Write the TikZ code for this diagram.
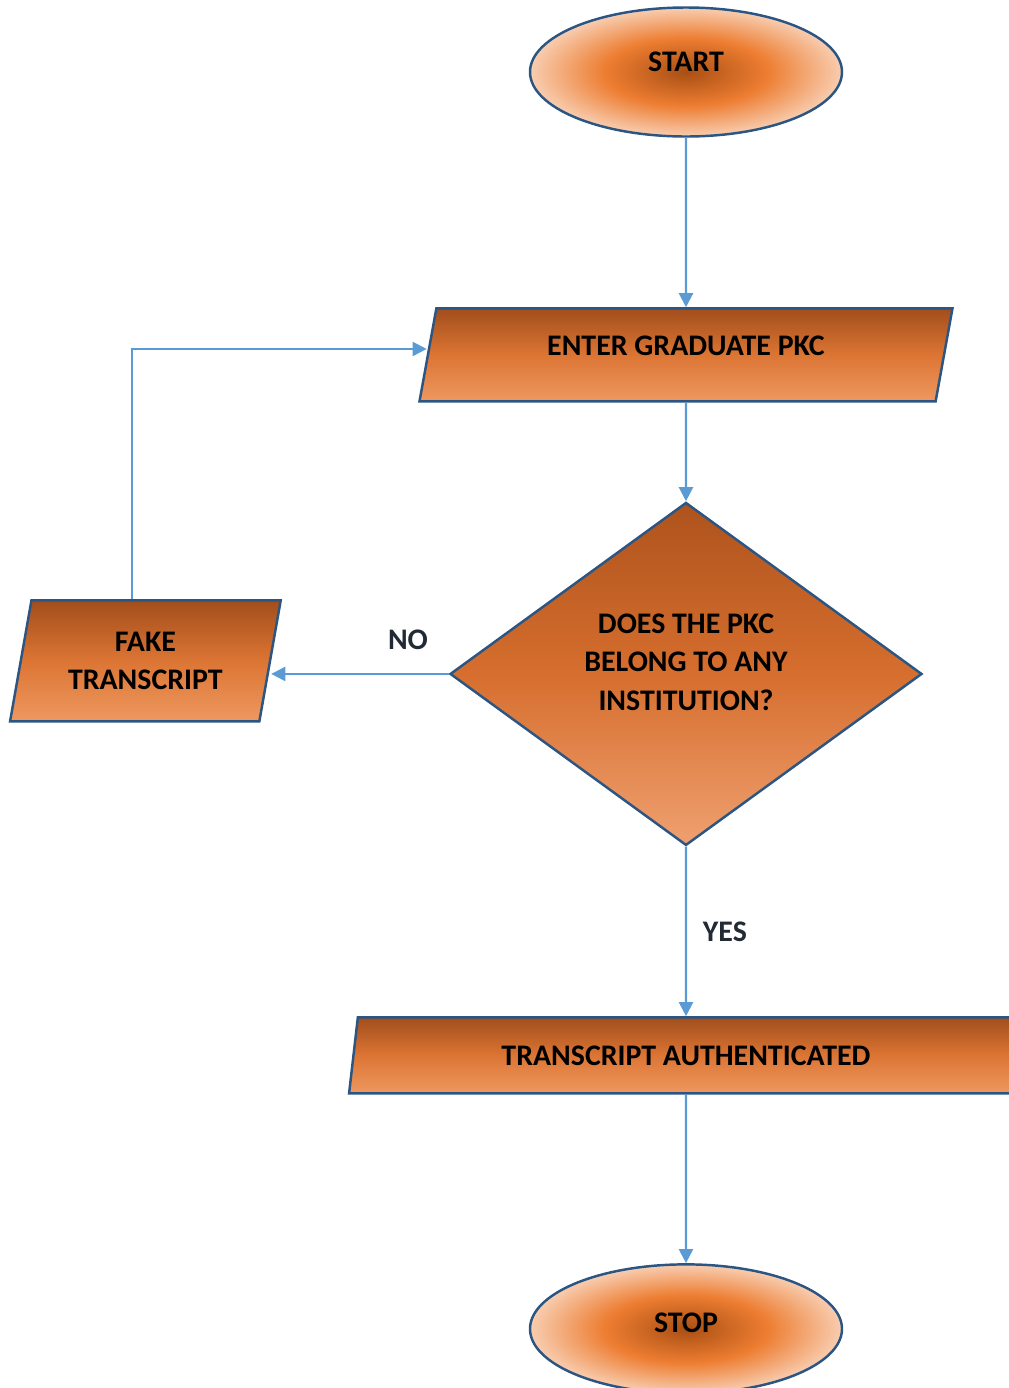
\documentclass[tikz,border=0pt]{standalone}
\usepackage{fontspec}
\setmainfont{Carlito}
\usepackage{xcolor}
\usetikzlibrary{shapes.geometric,arrows.meta,positioning}

\definecolor{edgeblue}{HTML}{2B5583}
\definecolor{linkblue}{HTML}{5B9BD5}
\definecolor{labelink}{HTML}{222A35}
\definecolor{ovcore}{HTML}{A94F14}
\definecolor{ovmid}{HTML}{ED7D31}
\definecolor{ovrim}{HTML}{F8CDB0}
\definecolor{pgtop}{HTML}{A24E1C}
\definecolor{pgmid}{HTML}{DC7534}
\definecolor{pgbot}{HTML}{EE9860}
\definecolor{dmtop}{HTML}{AE531D}
\definecolor{dmmid}{HTML}{D66E2E}
\definecolor{dmbot}{HTML}{EFA070}

\pgfdeclareradialshading{ovalglow}{\pgfpoint{0bp}{0bp}}{color(0bp)=(ovcore); color(13bp)=(ovmid); color(25bp)=(ovrim); color(50bp)=(ovrim)}

\begin{document}
\begin{tikzpicture}[
    node distance=3.39cm,
    font=\bfseries\fontsize{17}{22}\selectfont,
    terminal/.style={ellipse, draw=edgeblue, line width=1.4pt, shade, shading=ovalglow, minimum width=6.24cm, minimum height=2.58cm, inner sep=0pt, align=center},
    inout/.style={trapezium, trapezium left angle=76, trapezium right angle=104, trapezium stretches=true, draw=edgeblue, line width=1.4pt, top color=pgtop, bottom color=pgbot, middle color=pgmid, inner sep=0pt, align=center},
    decision/.style={diamond, draw=edgeblue, line width=1.4pt, top color=dmtop, bottom color=dmbot, middle color=dmmid, minimum width=9.44cm, minimum height=6.86cm, inner sep=0pt, align=center},
    arrow/.style={-{Triangle[length=0.28cm,width=0.28cm]}, draw=linkblue, line width=1.2pt},
    answer/.style={text=labelink}
]
    \clip (0,0) rectangle (20.18,-27.76);

    % Flow down the middle
    \node[terminal, text depth=0.4cm] (start) at (13.72,-1.44) {START};
    \node[inout, minimum width=10.68cm, minimum height=1.86cm, text depth=0.36cm, below=of start] (enter) {ENTER GRADUATE PKC};
    \node[decision, text depth=0.48cm, below=1.97cm of enter] (check) {DOES THE PKC\\BELONG TO ANY\\INSTITUTION?};
    \node[inout, minimum width=13.52cm, minimum height=1.52cm, below=of check] (valid) {TRANSCRIPT AUTHENTICATED};
    \node[terminal, text depth=0.24cm, below=3.37cm of valid] (stop) {STOP};

    % Rejected branch
    \node[inout, minimum width=5.42cm, minimum height=2.42cm, left=3.55cm of check, yshift=0.26cm] (fake) {FAKE\\TRANSCRIPT};

    % Connectors
    \draw[arrow] (start) -- (enter);
    \draw[arrow] (enter) -- (check);
    \draw[arrow] (check) -- node[answer, right=0.2cm] (yes) {YES} (valid);
    \draw[arrow] (valid) -- (stop);
    \draw[arrow] (check.west) -- node[answer, pos=0.23, above=0.35cm] (no) {NO} (check.west -| fake.east);
    \draw[arrow] ([xshift=-0.26cm]fake.north) |- ([yshift=0.12cm]enter.west);

\end{tikzpicture}
\end{document}
